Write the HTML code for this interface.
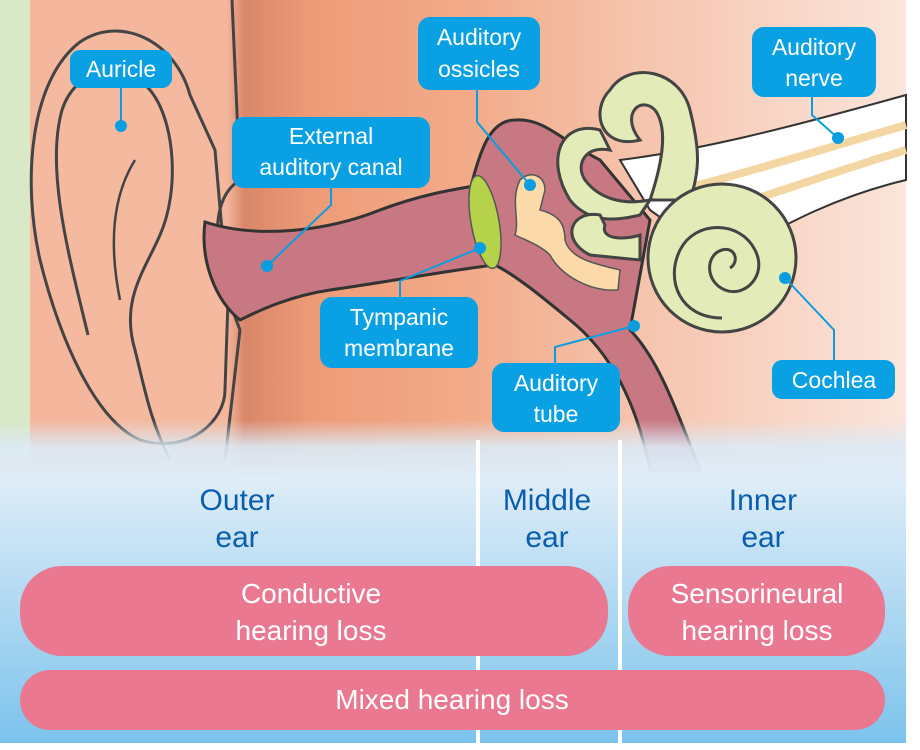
<!DOCTYPE html>
<html><head><meta charset="utf-8"><style>
html,body{margin:0;padding:0;background:#fff;}
svg{display:block;font-family:"Liberation Sans",sans-serif;}
</style></head><body>
<svg width="920" height="750" viewBox="0 0 920 750" xmlns="http://www.w3.org/2000/svg">
<defs>
<linearGradient id="skinH" x1="0" x2="1" y1="0" y2="0">
<stop offset="0" stop-color="#f4b79d"/><stop offset="0.25" stop-color="#f4b79d"/>
<stop offset="0.27" stop-color="#d9876a"/><stop offset="0.35" stop-color="#ee9c78"/>
<stop offset="0.52" stop-color="#f2ab8a"/><stop offset="0.7" stop-color="#f6c3ac"/>
<stop offset="1" stop-color="#fbe5dc"/></linearGradient>
<linearGradient id="fade" x1="0" x2="0" y1="0" y2="1">
<stop offset="0" stop-color="#dbeaf6" stop-opacity="0"/><stop offset="0.45" stop-color="#dceaf6" stop-opacity="0.9"/><stop offset="1" stop-color="#dfedf8"/></linearGradient>
<linearGradient id="blue" x1="0" x2="0" y1="0" y2="1">
<stop offset="0" stop-color="#dfedf8"/><stop offset="1" stop-color="#7cc3ec"/></linearGradient>
</defs>
<rect x="0" y="0" width="906" height="743" fill="url(#skinH)"/>
<rect x="0" y="0" width="30" height="460" fill="#d9e8c6"/>
<!-- head edge behind ear -->
<path d="M185,0 L190,95 C175,130 160,150 190,150 L190,460 L30,460 L30,0Z" fill="#f4b79d"/>
<!-- auricle -->
<path d="M190,95 C175,40 120,15 80,42 C30,80 22,180 40,260 C60,340 95,420 140,440 C190,455 225,420 225,390 L228,300 L215,150 Z" fill="#f5b9a0" stroke="#444" stroke-width="3"/>
<path d="M88,335 C70,260 45,170 62,110 C75,70 120,55 150,90 C175,120 180,190 160,235 C145,270 120,300 135,350 C145,390 150,420 170,460" fill="none" stroke="#444" stroke-width="3"/>
<path d="M120,300 C110,250 110,200 135,160" fill="none" stroke="#444" stroke-width="2.5"/>
<path d="M232,0 L240,180 C215,195 205,240 240,330 L225,460" fill="none" stroke="#444" stroke-width="3"/>
<!-- middle ear cavity + tube -->
<path d="M470,190 C480,150 490,120 515,120 C545,118 560,140 600,160 L650,220 L630,330 C660,360 680,420 700,470 L650,470 C640,420 620,360 570,320 C540,295 515,275 495,265 Z" fill="#c87882" stroke="#333" stroke-width="3"/>
<!-- external canal -->
<path d="M205,222 C260,240 330,230 380,210 C420,195 450,190 480,185 L495,265 C450,270 400,280 330,290 C290,296 260,310 240,320 C215,300 200,260 205,222Z" fill="#c87882" stroke="#333" stroke-width="3"/>
<!-- ossicles -->
<path d="M520,180 C530,170 545,175 545,190 L540,210 C560,215 565,225 565,240 C570,260 600,265 620,270 L618,290 C590,292 560,275 550,255 C540,245 525,240 515,235 C520,220 510,200 520,180Z" fill="#fbd9a8" stroke="#555" stroke-width="1.5"/>
<ellipse cx="485" cy="222" rx="14" ry="47" transform="rotate(-10 485 222)" fill="#b5d24a" stroke="#555" stroke-width="1.5"/>
<!-- nerve -->
<path d="M620,160 C700,150 780,130 906,95 L906,180 C820,200 760,240 720,260 L650,210Z" fill="#fff" stroke="#333" stroke-width="2"/>
<path d="M660,195 C740,175 820,150 906,125 M690,220 C770,195 840,170 906,150" fill="none" stroke="#f4d6a2" stroke-width="8"/>
<!-- labyrinth -->
<g fill="#e3ebb8" stroke="#444" stroke-width="3">
<path d="M640,140 C600,150 590,110 610,90 C630,60 680,70 690,110 C700,150 700,170 690,200 L650,200 C660,170 670,130 655,110 C640,95 620,115 640,140Z"/>
<path d="M600,130 C560,120 545,160 570,200 C590,225 620,220 640,215 L650,200 C625,205 600,200 585,180 C575,165 585,145 610,150Z"/>
<path d="M600,215 C570,210 560,240 590,255 L640,260 L640,235 C625,240 600,240 605,225Z"/>
<circle cx="722" cy="258" r="74"/>
</g>
<path d="M722,318 C680,318 665,280 680,250 C695,220 740,220 755,250 C768,275 745,298 725,290 C705,282 705,255 722,250 C735,246 740,262 730,268" fill="none" stroke="#444" stroke-width="3"/>
<!-- bottom fade -->
<rect x="0" y="420" width="906" height="60" fill="url(#fade)"/>
<rect x="0" y="478" width="906" height="265" fill="url(#blue)"/>
<rect x="476" y="440" width="4" height="303" fill="#fff"/>
<rect x="618" y="440" width="4" height="303" fill="#fff"/>
<!-- leaders -->
<g stroke="#0a9ee0" stroke-width="2" fill="none">
<path d="M121,88 V126"/><path d="M331,188 V205 L267,266"/><path d="M477,90 V122 L530,185"/>
<path d="M812,97 V115 L838,138"/><path d="M400,297 V281 L480,248"/><path d="M555,363 V347 L634,326"/><path d="M834,360 V330 L785,278"/>
</g>
<g fill="#0a9ee0"><circle cx="121" cy="126" r="6"/><circle cx="267" cy="266" r="6"/><circle cx="530" cy="185" r="6"/><circle cx="838" cy="138" r="6"/><circle cx="480" cy="248" r="6"/><circle cx="634" cy="326" r="6"/><circle cx="785" cy="278" r="6"/></g>
<g fill="#0aa0e4">
<rect x="70" y="50" width="102" height="38" rx="10"/>
<rect x="232" y="117" width="198" height="71" rx="12"/>
<rect x="418" y="17" width="122" height="73" rx="12"/>
<rect x="752" y="27" width="124" height="70" rx="12"/>
<rect x="320" y="297" width="158" height="71" rx="12"/>
<rect x="492" y="363" width="128" height="69" rx="12"/>
<rect x="772" y="360" width="123" height="39" rx="10"/>
</g>
<g fill="#fff" font-size="23" text-anchor="middle">
<text x="121" y="77">Auricle</text>
<text x="331" y="144">External</text><text x="331" y="175">auditory canal</text>
<text x="479" y="45">Auditory</text><text x="479" y="77">ossicles</text>
<text x="814" y="55">Auditory</text><text x="814" y="86">nerve</text>
<text x="399" y="325">Tympanic</text><text x="399" y="356">membrane</text>
<text x="556" y="391">Auditory</text><text x="556" y="422">tube</text>
<text x="834" y="388">Cochlea</text>
</g>
<g fill="#0b5eae" font-size="30" text-anchor="middle">
<text x="237" y="510">Outer</text><text x="237" y="547">ear</text>
<text x="547" y="510">Middle</text><text x="547" y="547">ear</text>
<text x="763" y="510">Inner</text><text x="763" y="547">ear</text>
</g>
<g fill="#ea7891">
<rect x="20" y="566" width="588" height="90" rx="42"/>
<rect x="628" y="566" width="257" height="90" rx="42"/>
<rect x="20" y="670" width="865" height="60" rx="30"/>
</g>
<g fill="#fff" font-size="28" text-anchor="middle">
<text x="311" y="603">Conductive</text><text x="311" y="640">hearing loss</text>
<text x="757" y="603">Sensorineural</text><text x="757" y="640">hearing loss</text>
<text x="452" y="709">Mixed hearing loss</text>
</g>
</svg>
</body></html>
